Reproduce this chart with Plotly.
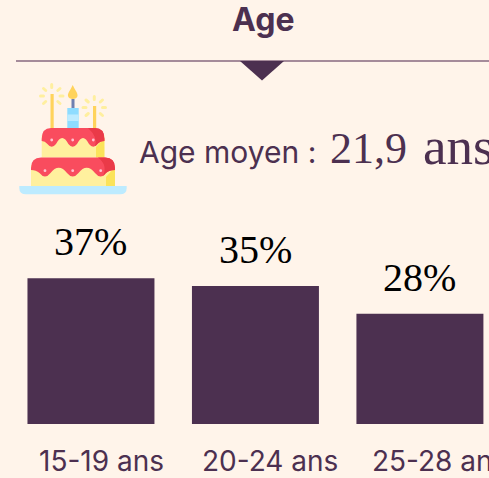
import base64
import plotly.graph_objects as go

categories = ["15-19 ans", "20-24 ans", "25-28 ans"]
values = [37, 35, 28]
label_shift = [11, 14.5, 19.5]

W, H = 489, 478
BASE = 424
BG = "#FFF4EA"
PURPLE = "#4C3050"
SANS = "Inter, 'Open Sans', sans-serif"
SERIF = "'Liberation Serif', serif"

def px(x):
    return x / W

def py(y):
    return (BASE - y) / BASE

cake = """<svg xmlns='http://www.w3.org/2000/svg' viewBox='0 0 125 125' width='125' height='125'>
<g fill='#FFD35C'><rect x='40.5' y='19' width='3.2' height='34'/><rect x='83' y='31' width='3.2' height='22'/></g>
<rect x='61.5' y='24' width='3' height='9' fill='#7080B0'/>
<path d='M62.7 10 C65 15 68 18 67.5 21 C67 25 58.5 25 58 21 C57.5 18 60.5 15 62.7 10 Z' fill='#FFD35C'/>
<rect x='57.3' y='33' width='11.4' height='20' fill='#8EDCFF'/><rect x='57.3' y='39.5' width='11.4' height='6.5' fill='#BDEBFF'/>
<g stroke='#FFEF9F' stroke-width='3' stroke-linecap='round'>
<path d='M41.7 9.5V12.5M33.5 13.5L35.7 15.5M50 13.5L47.8 15.5M30.5 21H33.5M50 21H53M33.5 28.5L35.7 26.5M50 28.5L47.8 26.5'/>
<path d='M84.3 21.5V24.5M76 25L78.3 27M92.5 25L90.3 27M73 32.5H76M92.5 32.5H95.5M76 40.5L78.3 38.5M92.5 40.5L90.3 38.5'/>
</g>
<rect x='31.7' y='60' width='62.7' height='22.5' fill='#FFF09E'/><path d='M86 82.5V72L94.4 63V82.5Z' fill='#FBE35A'/>
<path d='M31.7 64Q31.7 53 41 53H85Q94.4 53 94.4 64V66Q90 66 87.5 69Q83.3 74.5 79 69Q76 63 73 63Q70 63 67 69Q62.7 74.5 58.4 69Q55.4 63 52.2 63Q49 63 46 69Q41.7 74.5 37.4 69Q35 66 31.7 66Z' fill='#F94C5E'/>
<path d='M78 53H85Q94.4 53 94.4 64V66Q90 66 87.5 69Q86 71 85 71Q88 62 78 53Z' fill='#EA3A48'/>
<rect x='21' y='90' width='84' height='21' fill='#FFF09E'/><path d='M96 111V102L105 92V111Z' fill='#FBE35A'/>
<path d='M21 93Q21 82.5 31 82.5H95Q105 82.5 105 93V95Q99 95 96 98Q90.7 105 85 98Q81 92.7 76.7 92.7Q72.5 92.7 68.5 98Q62.7 105 57 98Q53 92.7 48.8 92.7Q44.5 92.7 40.5 98Q35 105 29.5 98Q26 95 21 95Z' fill='#F94C5E'/>
<path d='M88 82.5H95Q105 82.5 105 93V95Q99 95 96 98Q94 100.5 93 101Q98 90 88 82.5Z' fill='#EA3A48'/>
<g fill='#FFC3D0'><circle cx='41.7' cy='65' r='1.4'/><circle cx='62.7' cy='65' r='1.4'/><circle cx='83.3' cy='65' r='1.4'/><circle cx='35' cy='95.7' r='1.4'/><circle cx='62.7' cy='95.7' r='1.4'/><circle cx='90.7' cy='95.7' r='1.4'/></g>
<path d='M9.3 111H116.7V113Q116.7 119.3 110 119.3H16Q9.3 119.3 9.3 113Z' fill='#BDEBFF'/>
</svg>"""
cake_uri = "data:image/svg+xml;base64," + base64.b64encode(cake.encode()).decode()

fig = go.Figure(go.Bar(x=categories, y=values, width=0.772, marker_color=PURPLE,
                       marker_line_width=0, hoverinfo="skip"))

annotations = [
    dict(text="<b>Age</b>", x=px(263), y=py(20), xref="paper", yref="paper", showarrow=False,
         xanchor="center", yanchor="middle", font=dict(family=SANS, size=32, color=PURPLE)),
    dict(text="Age moyen :", x=px(137), y=py(152), xref="paper", yref="paper", showarrow=False,
         xanchor="left", yanchor="middle", font=dict(family=SANS, size=30, color=PURPLE)),
    dict(text="21,9", x=px(328), y=py(148), xref="paper", yref="paper", showarrow=False,
         xanchor="left", yanchor="middle", font=dict(family=SERIF, size=44, color=PURPLE)),
    dict(text="ans", x=px(421), y=py(145.5), xref="paper", yref="paper", showarrow=False,
         xanchor="left", yanchor="middle", font=dict(family=SERIF, size=53, color=PURPLE)),
]
for c, v, s in zip(categories, values, label_shift):
    annotations.append(dict(text=f"{v}%", x=c, y=v, xref="x", yref="y", showarrow=False,
                            xanchor="center", yanchor="bottom", yshift=12,
                            font=dict(family=SERIF, size=40, color="#000000")))
    annotations.append(dict(text=c, x=c, y=py(461), xref="x", yref="paper", showarrow=False,
                            xanchor="center", yanchor="middle", xshift=s,
                            font=dict(family=SANS, size=28, color=PURPLE)))

fig.update_layout(
    width=W, height=H, autosize=False,
    margin=dict(l=0, r=0, t=0, b=H - BASE, pad=0),
    paper_bgcolor=BG, plot_bgcolor=BG, showlegend=False,
    xaxis=dict(type="category", range=[-0.553, 2.42], showticklabels=False, showgrid=False,
               zeroline=False, showline=False, ticks="", fixedrange=True),
    yaxis=dict(range=[0, 107.6], visible=False, fixedrange=True),
    annotations=annotations,
    shapes=[
        dict(type="line", xref="paper", yref="paper", x0=px(16), x1=1, y0=py(61), y1=py(61),
             line=dict(color="#87697F", width=1.5)),
        dict(type="path", xref="paper", yref="paper",
             path=f"M {px(240)} {py(61)} L {px(284)} {py(61)} L {px(262)} {py(80.5)} Z",
             fillcolor=PURPLE, line_width=0),
    ],
    images=[dict(source=cake_uri, xref="paper", yref="paper", x=px(10), y=py(75),
                 sizex=px(125), sizey=125 / BASE, xanchor="left", yanchor="top",
                 sizing="stretch", layer="above")],
)
fig.write_html("out.html", config={"displayModeBar": False},
               post_script="document.documentElement.style.background='#FFF4EA';"
                           "document.body.style.margin='0';document.body.style.overflow='hidden';")
